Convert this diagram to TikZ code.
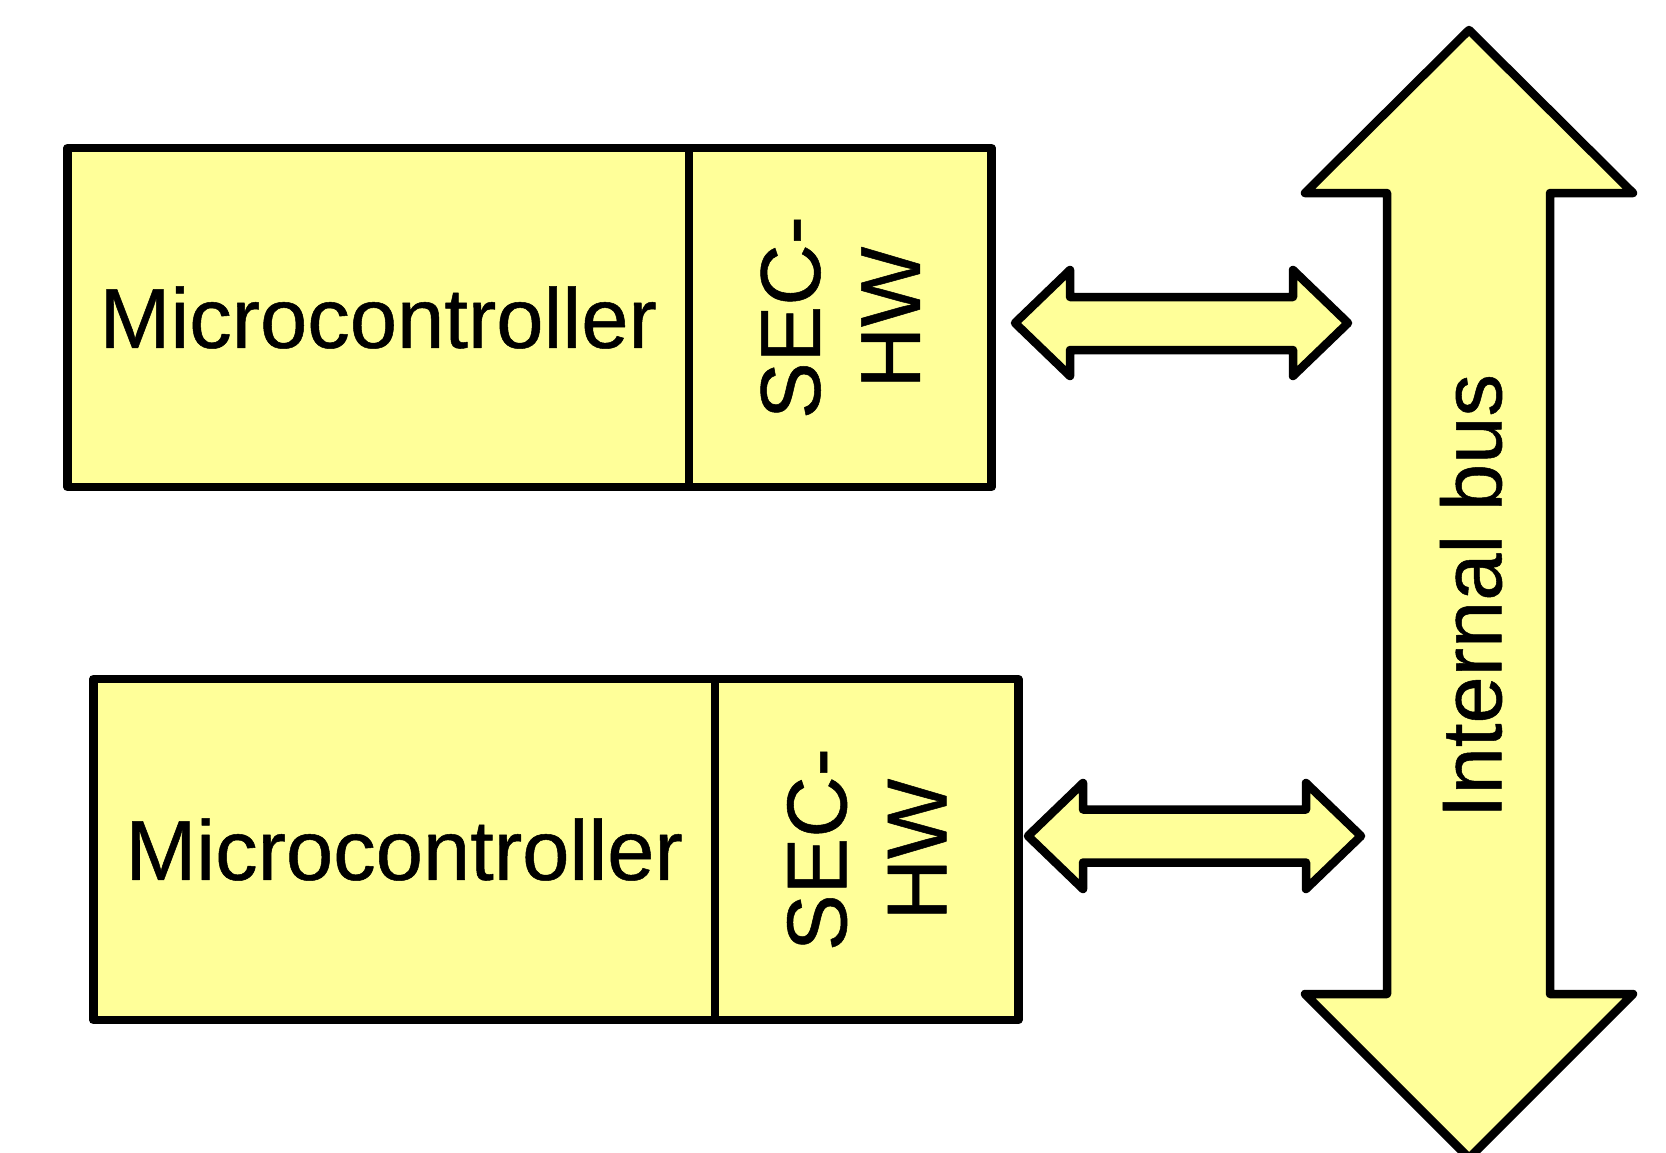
\documentclass[tikz,border=0pt]{standalone}
\usepackage{fontspec}
\setmainfont[FakeBold=0.6]{Liberation Sans}
\definecolor{busy}{HTML}{FFFF99}
\newcommand\mcfont{\fontsize{85}{100}\selectfont}
\begin{document}
\begin{tikzpicture}[x=1pt,y=-1pt,line width=8.5pt,line join=round,
  cell/.style={draw=black,fill=busy,line width=8.5pt,rectangle,inner sep=0pt,outer sep=0pt,font=\mcfont,align=center},
  blockarrow/.style={draw=black,fill=busy,line width=8.5pt,line join=round}]
\path[use as bounding box] (0,0) rectangle (1666,1152);
\clip (0,0) rectangle (1666,1152);
% top unit
\node[cell,minimum width=621.5pt,minimum height=339pt] (mc1) at (378.25,317.5) {Microcontroller};
\node[cell,rotate=90,minimum width=339pt,minimum height=302.5pt] (sec1) at (840.25,317.5) {SEC-\\HW};
% bottom unit
\node[cell,minimum width=621.7pt,minimum height=341pt] (mc2) at (404.15,849.5) {Microcontroller};
\node[cell,rotate=90,minimum width=341pt,minimum height=303.3pt] (sec2) at (866.65,849.5) {SEC-\\HW};
% bus
\draw[blockarrow] (1469,30) -- (1633,193) -- (1550,193) -- (1550,994) -- (1633,994) -- (1469,1158)
  -- (1305,994) -- (1387,994) -- (1387,193) -- (1305,193) -- cycle;
\node[font=\mcfont,rotate=90,inner sep=0pt] (bus) at (1471,596) {Internal bus};
% top double arrow
\draw[blockarrow] (1015,323) -- (1070,270) -- (1070,297) -- (1293,297) -- (1293,270) -- (1348,323)
  -- (1293,376) -- (1293,350) -- (1070,350) -- (1070,376) -- cycle;
% bottom double arrow
\draw[blockarrow] (1028,836) -- (1083,783) -- (1083,809.5) -- (1306,809.5) -- (1306,783) -- (1361,836)
  -- (1306,889) -- (1306,862.5) -- (1083,862.5) -- (1083,889) -- cycle;
\end{tikzpicture}
\end{document}
